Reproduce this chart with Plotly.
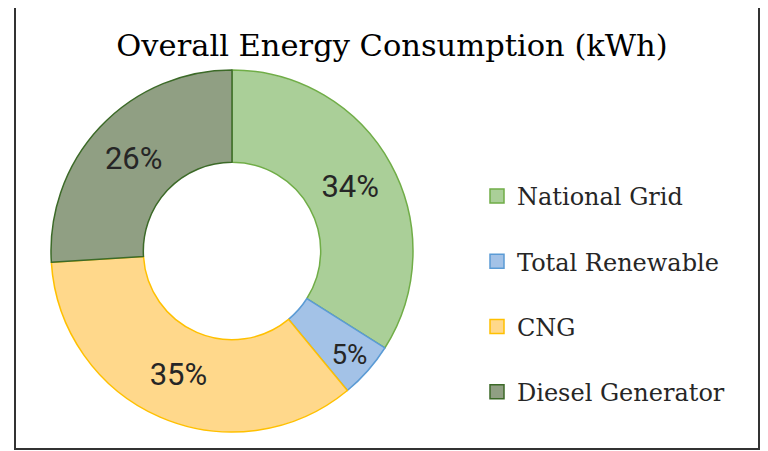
import plotly.graph_objects as go

categories = ["National Grid", "Total Renewable", "CNG", "Diesel Generator"]
shares = [34, 5, 35, 26]
fill_colors = ["#aacf98", "#a3c2e7", "#ffd88b", "#909f83"]
line_colors = ["#70ad47", "#5b9bd5", "#ffc000", "#3c6a28"]
title_text = "Overall Energy Consumption (kWh)"

# page body has an 8px default margin, so the figure is sized to fit the window
OFF = 8
W, H = 768 - OFF, 451 - OFF


def px(sx):
    return (sx - OFF) / W


def py(sy):
    return 1 - (sy - OFF) / H


fig = go.Figure()
fig.add_trace(go.Pie(
    labels=categories,
    values=shares,
    sort=False,
    direction="clockwise",
    rotation=0,
    hole=0.49,
    marker=dict(colors=fill_colors, line=dict(color=line_colors, width=1.5)),
    texttemplate="%{percent:.0%}",
    textposition="inside",
    insidetextorientation="horizontal",
    textfont=dict(family="Roboto", size=31, color="#262626"),
    domain=dict(x=[px(51), px(413)], y=[py(432), py(70)]),
    showlegend=False,
))

# legend entries
for i, (cat, fc, lc) in enumerate(zip(categories, fill_colors, line_colors)):
    fig.add_trace(go.Scatter(
        x=[None], y=[None], mode="markers", name=cat,
        legendgroup=f"g{i}",
        marker=dict(symbol="square", size=14, color=fc, line=dict(color=lc, width=1.5)),
    ))

fig.update_layout(
    width=W, height=H,
    margin=dict(l=0, r=0, t=0, b=0),
    paper_bgcolor="white", plot_bgcolor="white",
    xaxis=dict(visible=False), yaxis=dict(visible=False),
    title=dict(text=title_text, x=px(392), xanchor="center", y=py(45), yanchor="middle",
               font=dict(family="DejaVu Serif", size=30.5, color="#000000")),
    legend=dict(x=px(477), xanchor="left", y=py(174), yanchor="top",
                font=dict(family="DejaVu Serif", size=24, color="#262626"),
                tracegroupgap=31, itemwidth=30, bgcolor="rgba(0,0,0,0)"),
    shapes=[dict(type="rect", xref="paper", yref="paper",
                 x0=px(15), x1=px(759), y0=py(449), y1=py(6),
                 line=dict(color="#333333", width=2), fillcolor="rgba(0,0,0,0)", layer="above")],
)

fig.write_html("out.html")
